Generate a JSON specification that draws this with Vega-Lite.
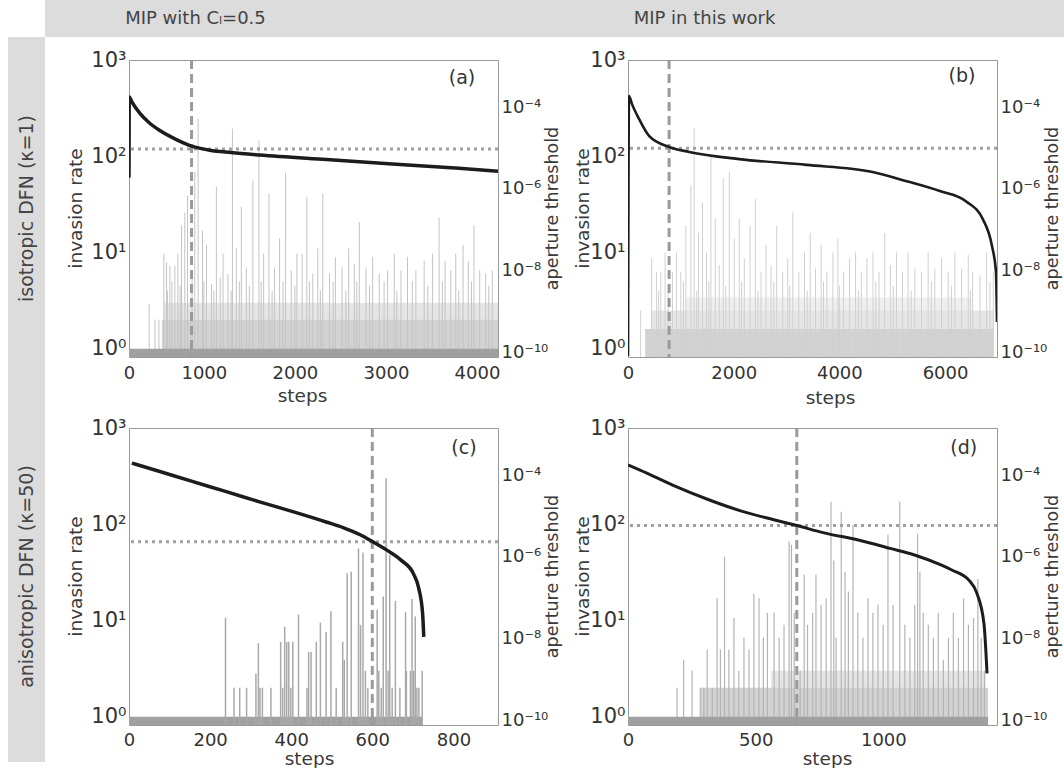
{
"$schema":"https://vega.github.io/schema/vega-lite/v6.json",
"padding":{"left":8,"top":0,"right":0,"bottom":0},
"background":"white",
"config":{"font":"DejaVu Sans","view":{"stroke":"#999"},"axis":{"domain":false,"ticks":false,"grid":false,"labelColor":"#333","titleColor":"#3a3a3a","titleFontWeight":"normal","labelFont":"DejaVu Sans","titleFont":"DejaVu Sans"},"text":{"font":"DejaVu Sans"}},
"datasets":{
"refs":[{"p":"a","step":865,"thr":9.5e-6},{"p":"b","step":778,"thr":1.0e-5},{"p":"c","step":600,"thr":2.36e-6},{"p":"d","step":661,"thr":5.9e-6}],
"bands":[
{"p":"b","lvl":"faint","s0":1100,"s1":6500,"rate":3.4},
{"p":"a","lvl":"sparse","s0":560,"s1":4231,"rate":3},
{"p":"b","lvl":"sparse","s0":440,"s1":6913,"rate":2.5},
{"p":"d","lvl":"sparse","s0":560,"s1":1400,"rate":3},
{"p":"a","lvl":"dense","s0":540,"s1":4231,"rate":2},
{"p":"b","lvl":"dense","s0":335,"s1":6913,"rate":1.6},
{"p":"d","lvl":"dense","s0":283,"s1":1410,"rate":2},
{"p":"a","lvl":"base","s0":178,"s1":4231,"rate":1},
{"p":"c","lvl":"base","s0":0,"s1":724,"rate":1},
{"p":"d","lvl":"base","s0":0,"s1":1410,"rate":1}
],
"curve":[
{"p":"a","step":178,"thr":1.9e-6},{"p":"a","step":181,"thr":1.8e-4},{"p":"a","step":208,"thr":1.38e-4},{"p":"a","step":298,"thr":7.1e-5},{"p":"a","step":400,"thr":4.2e-5},{"p":"a","step":517,"thr":2.7e-5},{"p":"a","step":704,"thr":1.6e-5},{"p":"a","step":868,"thr":1.12e-5},{"p":"a","step":1065,"thr":8.9e-6},{"p":"a","step":1300,"thr":7.8e-6},{"p":"a","step":1613,"thr":6.8e-6},{"p":"a","step":2347,"thr":5.25e-6},{"p":"a","step":3070,"thr":4.1e-6},{"p":"a","step":3803,"thr":3.2e-6},{"p":"a","step":4230,"thr":2.7e-6},
{"p":"b","step":0,"thr":8e-11},{"p":"b","step":19,"thr":1.9e-4},{"p":"b","step":76,"thr":1.2e-4},{"p":"b","step":209,"thr":5.2e-5},{"p":"b","step":398,"thr":2.0e-5},{"p":"b","step":778,"thr":1.07e-5},{"p":"b","step":1157,"thr":8.1e-6},{"p":"b","step":2106,"thr":5.4e-6},{"p":"b","step":3378,"thr":3.9e-6},{"p":"b","step":4630,"thr":2.6e-6},{"p":"b","step":5275,"thr":1.55e-6},{"p":"b","step":5900,"thr":8.9e-7},{"p":"b","step":6414,"thr":4.8e-7},{"p":"b","step":6717,"thr":1.8e-7},{"p":"b","step":6888,"thr":4.0e-8},{"p":"b","step":6964,"thr":9.2e-9},{"p":"b","step":6983,"thr":5.5e-10},
{"p":"c","step":7,"thr":2.0e-4},{"p":"c","step":74,"thr":1.26e-4},{"p":"c","step":156,"thr":7.1e-5},{"p":"c","step":240,"thr":4.0e-5},{"p":"c","step":322,"thr":2.24e-5},{"p":"c","step":404,"thr":1.29e-5},{"p":"c","step":488,"thr":7.1e-6},{"p":"c","step":528,"thr":5.25e-6},{"p":"c","step":570,"thr":3.5e-6},{"p":"c","step":600,"thr":2.4e-6},{"p":"c","step":637,"thr":1.45e-6},{"p":"c","step":670,"thr":8.5e-7},{"p":"c","step":702,"thr":3.8e-7},{"p":"c","step":714,"thr":1.8e-7},{"p":"c","step":724,"thr":4.2e-8},{"p":"c","step":727,"thr":1.1e-8},
{"p":"d","step":0,"thr":1.8e-4},{"p":"d","step":47,"thr":1.35e-4},{"p":"d","step":177,"thr":5.7e-5},{"p":"d","step":311,"thr":2.6e-5},{"p":"d","step":441,"thr":1.35e-5},{"p":"d","step":571,"thr":8.2e-6},{"p":"d","step":661,"thr":5.9e-6},{"p":"d","step":768,"thr":3.9e-6},{"p":"d","step":902,"thr":2.6e-6},{"p":"d","step":1031,"thr":1.6e-6},{"p":"d","step":1122,"thr":1.12e-6},{"p":"d","step":1228,"thr":6.3e-7},{"p":"d","step":1268,"thr":4.8e-7},{"p":"d","step":1335,"thr":2.7e-7},{"p":"d","step":1366,"thr":1.3e-7},{"p":"d","step":1394,"thr":2.3e-8},{"p":"d","step":1406,"thr":1.4e-9}
],
"spikes":[
{"p":"a","step":400,"rate":2.9},{"p":"a","step":463,"rate":2},{"p":"a","step":507,"rate":2},{"p":"a","step":561,"rate":9.7},{"p":"a","step":591,"rate":7.9},{"p":"a","step":627,"rate":7.3},{"p":"a","step":682,"rate":7.3},{"p":"a","step":715,"rate":9.7},{"p":"a","step":755,"rate":19},{"p":"a","step":791,"rate":26},{"p":"a","step":821,"rate":39},{"p":"a","step":901,"rate":69},{"p":"a","step":937,"rate":247},{"p":"a","step":985,"rate":17},{"p":"a","step":1029,"rate":12},{"p":"a","step":1083,"rate":4.7},{"p":"a","step":1138,"rate":48},{"p":"a","step":1211,"rate":9.7},{"p":"a","step":1265,"rate":6},{"p":"a","step":1314,"rate":194},{"p":"a","step":1357,"rate":11},{"p":"a","step":1412,"rate":30},{"p":"a","step":1467,"rate":7},{"p":"a","step":1539,"rate":56},{"p":"a","step":1605,"rate":146},{"p":"a","step":1657,"rate":9.7},{"p":"a","step":1715,"rate":41},{"p":"a","step":1777,"rate":7},{"p":"a","step":1832,"rate":14},{"p":"a","step":1898,"rate":68},{"p":"a","step":1960,"rate":6.5},{"p":"a","step":2022,"rate":9.7},{"p":"a","step":2080,"rate":9.7},{"p":"a","step":2131,"rate":38},{"p":"a","step":2197,"rate":6},{"p":"a","step":2252,"rate":11},{"p":"a","step":2306,"rate":41},{"p":"a","step":2380,"rate":6},{"p":"a","step":2445,"rate":8.9},{"p":"a","step":2518,"rate":7},{"p":"a","step":2591,"rate":11},{"p":"a","step":2653,"rate":7.6},{"p":"a","step":2708,"rate":20.6},{"p":"a","step":2781,"rate":7},{"p":"a","step":2854,"rate":9},{"p":"a","step":2927,"rate":6},{"p":"a","step":3018,"rate":6.5},{"p":"a","step":3091,"rate":9.7},{"p":"a","step":3165,"rate":6.5},{"p":"a","step":3237,"rate":9},{"p":"a","step":3329,"rate":6.5},{"p":"a","step":3420,"rate":8.2},{"p":"a","step":3511,"rate":9.7},{"p":"a","step":3584,"rate":23},{"p":"a","step":3650,"rate":8.2},{"p":"a","step":3712,"rate":6.5},{"p":"a","step":3767,"rate":9.7},{"p":"a","step":3847,"rate":12},{"p":"a","step":3905,"rate":8.2},{"p":"a","step":3967,"rate":19},{"p":"a","step":4030,"rate":6.5},{"p":"a","step":4096,"rate":6},{"p":"a","step":4168,"rate":6.5},
{"p":"a","step":600,"rate":4},{"p":"a","step":650,"rate":5},{"p":"a","step":740,"rate":4.5},{"p":"a","step":870,"rate":6},{"p":"a","step":1000,"rate":5},{"p":"a","step":1110,"rate":4},{"p":"a","step":1180,"rate":5.5},{"p":"a","step":1300,"rate":4},{"p":"a","step":1390,"rate":5},{"p":"a","step":1500,"rate":4.5},{"p":"a","step":1630,"rate":5},{"p":"a","step":1750,"rate":4},{"p":"a","step":1870,"rate":5},{"p":"a","step":2000,"rate":4.5},{"p":"a","step":2160,"rate":5},{"p":"a","step":2280,"rate":4},{"p":"a","step":2420,"rate":5},{"p":"a","step":2560,"rate":4},{"p":"a","step":2680,"rate":5},{"p":"a","step":2820,"rate":4.5},{"p":"a","step":2980,"rate":5},{"p":"a","step":3120,"rate":4},{"p":"a","step":3290,"rate":5},{"p":"a","step":3460,"rate":4.5},{"p":"a","step":3620,"rate":5},{"p":"a","step":3800,"rate":4},{"p":"a","step":3940,"rate":5},{"p":"a","step":4130,"rate":4.5},
{"p":"b","step":240,"rate":2.5},{"p":"b","step":335,"rate":1.6},{"p":"b","step":449,"rate":8.7},{"p":"b","step":538,"rate":6.3},{"p":"b","step":620,"rate":6.3},{"p":"b","step":702,"rate":10},{"p":"b","step":841,"rate":6.3},{"p":"b","step":917,"rate":10},{"p":"b","step":1000,"rate":6.3},{"p":"b","step":1095,"rate":19},{"p":"b","step":1190,"rate":50},{"p":"b","step":1252,"rate":195},{"p":"b","step":1334,"rate":16},{"p":"b","step":1410,"rate":33},{"p":"b","step":1486,"rate":10},{"p":"b","step":1569,"rate":103},{"p":"b","step":1651,"rate":22.5},{"p":"b","step":1727,"rate":7.4},{"p":"b","step":1803,"rate":59},{"p":"b","step":1917,"rate":69},{"p":"b","step":2011,"rate":14},{"p":"b","step":2106,"rate":22.5},{"p":"b","step":2201,"rate":8.7},{"p":"b","step":2309,"rate":19},{"p":"b","step":2410,"rate":36},{"p":"b","step":2517,"rate":6.3},{"p":"b","step":2612,"rate":12},{"p":"b","step":2707,"rate":7.4},{"p":"b","step":2814,"rate":19},{"p":"b","step":2928,"rate":6.3},{"p":"b","step":3023,"rate":8.7},{"p":"b","step":3118,"rate":26},{"p":"b","step":3232,"rate":6.3},{"p":"b","step":3340,"rate":10},{"p":"b","step":3448,"rate":16},{"p":"b","step":3548,"rate":6.8},{"p":"b","step":3656,"rate":12},{"p":"b","step":3763,"rate":6.3},{"p":"b","step":3877,"rate":10},{"p":"b","step":3972,"rate":14},{"p":"b","step":4080,"rate":6.3},{"p":"b","step":4194,"rate":8.7},{"p":"b","step":4307,"rate":10},{"p":"b","step":4415,"rate":6.3},{"p":"b","step":4522,"rate":8.7},{"p":"b","step":4636,"rate":10},{"p":"b","step":4750,"rate":6.3},{"p":"b","step":4858,"rate":16},{"p":"b","step":4966,"rate":7.4},{"p":"b","step":5080,"rate":10},{"p":"b","step":5193,"rate":6.3},{"p":"b","step":5300,"rate":10},{"p":"b","step":5427,"rate":6.8},{"p":"b","step":5554,"rate":6.3},{"p":"b","step":5680,"rate":10},{"p":"b","step":5806,"rate":6.8},{"p":"b","step":5933,"rate":8.7},{"p":"b","step":6059,"rate":6.3},{"p":"b","step":6186,"rate":10},{"p":"b","step":6313,"rate":6.8},{"p":"b","step":6439,"rate":9.4},{"p":"b","step":6522,"rate":6.3},{"p":"b","step":6660,"rate":5.8},{"p":"b","step":6787,"rate":10},{"p":"b","step":6913,"rate":6.3},
{"p":"b","step":580,"rate":4},{"p":"b","step":760,"rate":4.5},{"p":"b","step":1050,"rate":5},{"p":"b","step":1300,"rate":4},{"p":"b","step":1530,"rate":5},{"p":"b","step":1850,"rate":4.5},{"p":"b","step":2150,"rate":5},{"p":"b","step":2460,"rate":4},{"p":"b","step":2760,"rate":5},{"p":"b","step":3060,"rate":4.5},{"p":"b","step":3390,"rate":4},{"p":"b","step":3700,"rate":5},{"p":"b","step":4000,"rate":4.5},{"p":"b","step":4360,"rate":4},{"p":"b","step":4690,"rate":5},{"p":"b","step":5020,"rate":4.5},{"p":"b","step":5360,"rate":4},{"p":"b","step":5740,"rate":5},{"p":"b","step":6120,"rate":4.5},{"p":"b","step":6480,"rate":4},{"p":"b","step":6850,"rate":5},
{"p":"c","step":238,"rate":10.7},{"p":"c","step":259,"rate":2},{"p":"c","step":273,"rate":2},{"p":"c","step":290,"rate":2},{"p":"c","step":313,"rate":2.8},{"p":"c","step":319,"rate":5.8},{"p":"c","step":323,"rate":2},{"p":"c","step":329,"rate":2},{"p":"c","step":350,"rate":2},{"p":"c","step":374,"rate":6},{"p":"c","step":379,"rate":2},{"p":"c","step":384,"rate":8.6},{"p":"c","step":389,"rate":6},{"p":"c","step":394,"rate":6},{"p":"c","step":399,"rate":2},{"p":"c","step":404,"rate":6},{"p":"c","step":418,"rate":11.5},{"p":"c","step":439,"rate":2},{"p":"c","step":443,"rate":4.7},{"p":"c","step":449,"rate":4.7},{"p":"c","step":462,"rate":6},{"p":"c","step":472,"rate":9.5},{"p":"c","step":486,"rate":7.6},{"p":"c","step":498,"rate":12.5},{"p":"c","step":511,"rate":2},{"p":"c","step":527,"rate":6},{"p":"c","step":531,"rate":3.9},{"p":"c","step":538,"rate":31},{"p":"c","step":548,"rate":32},{"p":"c","step":566,"rate":56},{"p":"c","step":571,"rate":9},{"p":"c","step":577,"rate":51},{"p":"c","step":583,"rate":3},{"p":"c","step":589,"rate":2},{"p":"c","step":612,"rate":13},{"p":"c","step":616,"rate":3},{"p":"c","step":622,"rate":2},{"p":"c","step":627,"rate":17.7},{"p":"c","step":634,"rate":300},{"p":"c","step":639,"rate":3},{"p":"c","step":643,"rate":48},{"p":"c","step":649,"rate":2},{"p":"c","step":657,"rate":16},{"p":"c","step":668,"rate":2},{"p":"c","step":682,"rate":12.3},{"p":"c","step":684,"rate":3},{"p":"c","step":694,"rate":3},{"p":"c","step":698,"rate":16.7},{"p":"c","step":702,"rate":3},{"p":"c","step":706,"rate":11},{"p":"c","step":710,"rate":2},{"p":"c","step":715,"rate":2},{"p":"c","step":723,"rate":3},
{"p":"d","step":192,"rate":2},{"p":"d","step":218,"rate":3.9},{"p":"d","step":251,"rate":3},{"p":"d","step":283,"rate":2},{"p":"d","step":297,"rate":2},{"p":"d","step":310,"rate":5},{"p":"d","step":330,"rate":2},{"p":"d","step":349,"rate":17},{"p":"d","step":362,"rate":5},{"p":"d","step":378,"rate":46},{"p":"d","step":395,"rate":5},{"p":"d","step":415,"rate":10.6},{"p":"d","step":434,"rate":3},{"p":"d","step":454,"rate":6.6},{"p":"d","step":474,"rate":5},{"p":"d","step":493,"rate":19},{"p":"d","step":513,"rate":17},{"p":"d","step":530,"rate":6.6},{"p":"d","step":546,"rate":12},{"p":"d","step":572,"rate":12},{"p":"d","step":592,"rate":6.6},{"p":"d","step":611,"rate":9},{"p":"d","step":631,"rate":66},{"p":"d","step":640,"rate":61},{"p":"d","step":651,"rate":12},{"p":"d","step":674,"rate":3},{"p":"d","step":690,"rate":30},{"p":"d","step":703,"rate":9},{"p":"d","step":723,"rate":12},{"p":"d","step":736,"rate":30},{"p":"d","step":756,"rate":14.6},{"p":"d","step":776,"rate":17},{"p":"d","step":795,"rate":171},{"p":"d","step":806,"rate":42},{"p":"d","step":815,"rate":6.6},{"p":"d","step":835,"rate":135},{"p":"d","step":850,"rate":32},{"p":"d","step":863,"rate":20},{"p":"d","step":881,"rate":98},{"p":"d","step":900,"rate":12},{"p":"d","step":920,"rate":6.6},{"p":"d","step":940,"rate":17},{"p":"d","step":959,"rate":12},{"p":"d","step":979,"rate":14.6},{"p":"d","step":999,"rate":9},{"p":"d","step":1018,"rate":78},{"p":"d","step":1038,"rate":14.6},{"p":"d","step":1064,"rate":171},{"p":"d","step":1084,"rate":9},{"p":"d","step":1104,"rate":6.6},{"p":"d","step":1123,"rate":14.6},{"p":"d","step":1134,"rate":80},{"p":"d","step":1143,"rate":32},{"p":"d","step":1156,"rate":12},{"p":"d","step":1176,"rate":9},{"p":"d","step":1196,"rate":6.6},{"p":"d","step":1215,"rate":12},{"p":"d","step":1235,"rate":3.9},{"p":"d","step":1255,"rate":6.6},{"p":"d","step":1274,"rate":12},{"p":"d","step":1294,"rate":6.6},{"p":"d","step":1314,"rate":17},{"p":"d","step":1333,"rate":9},{"p":"d","step":1353,"rate":10.6},{"p":"d","step":1370,"rate":27},{"p":"d","step":1383,"rate":6.6},{"p":"d","step":1396,"rate":3}
]
},
"columns":6,"spacing":0,"bounds":"flush",
"concat":[
 {"width":37,"height":37,"data":{"values":[{}]},"mark":{"type":"text","text":""},"view":{"stroke":null}},
 {"width":84,"height":37,"data":{"values":[{}]},"mark":{"type":"text","text":""},"view":{"fill":"#dcdcdc","stroke":null}},
 {"width":369,"height":37,"data":{"values":[{}]},"mark":{"type":"text","text":"MIP with Cₗ=0.5","fontSize":18,"color":"#444","dx":-118,"baseline":"middle","align":"center"},"view":{"fill":"#dcdcdc","stroke":null}},
 {"width":130,"height":37,"data":{"values":[{}]},"mark":{"type":"text","text":""},"view":{"fill":"#dcdcdc","stroke":null}},
 {"width":369,"height":37,"data":{"values":[{}]},"mark":{"type":"text","text":"MIP in this work","fontSize":18,"color":"#444","dx":-108,"baseline":"middle","align":"center"},"view":{"fill":"#dcdcdc","stroke":null}},
 {"width":67,"height":37,"data":{"values":[{}]},"mark":{"type":"text","text":""},"view":{"fill":"#dcdcdc","stroke":null}},

 {"width":37,"height":23,"data":{"values":[{}]},"mark":{"type":"text","text":""},"view":{"fill":"#dcdcdc","stroke":null}},
 {"width":1,"height":1,"data":{"values":[{}]},"mark":{"type":"text","text":""},"view":{"stroke":null}},
 {"width":1,"height":1,"data":{"values":[{}]},"mark":{"type":"text","text":""},"view":{"stroke":null}},
 {"width":1,"height":1,"data":{"values":[{}]},"mark":{"type":"text","text":""},"view":{"stroke":null}},
 {"width":1,"height":1,"data":{"values":[{}]},"mark":{"type":"text","text":""},"view":{"stroke":null}},
 {"width":1,"height":1,"data":{"values":[{}]},"mark":{"type":"text","text":""},"view":{"stroke":null}},

 {"width":37,"height":297,"data":{"values":[{}]},"mark":{"type":"text","text":"isotropic DFN (κ=1)","angle":270,"fontSize":19,"color":"#444","baseline":"middle","align":"center"},"view":{"fill":"#dcdcdc","stroke":null}},
 {"width":1,"height":1,"data":{"values":[{}]},"mark":{"type":"text","text":""},"view":{"stroke":null}},
 {"width":369,"height":297,"resolve":{"scale":{"y":"independent"}},
  "layer":[
   {"layer":[
     {"data":{"name":"bands"},"transform":[{"filter":"datum.p==='a' && datum.lvl!=='base'"}],"mark":{"type":"bar","clip":true},
      "encoding":{
       "x":{"field":"s0","type":"quantitative","title":"steps","scale":{"domain":[178,4231],"nice":false,"zero":false},
            "axis":{"values":[178,1000,2000,3000,4000],"format":"d","labelExpr":"datum.value < 500 ? '0' : datum.label","labelFontSize":18,"labelPadding":7,"labelFlush":false,"labelOverlap":false,"titleFontSize":18.5,"titleX":173,"titleY":38,"titleBaseline":"middle","titleAlign":"center"}},
       "x2":{"field":"s1"},
       "y":{"field":"rate","type":"quantitative","title":"invasion rate","scale":{"type":"log","domain":[0.82,1000],"nice":false},
            "axis":{"orient":"left","values":[1,10,100,1000],"labelExpr":"datum.value < 5 ? '10⁰' : datum.value < 50 ? '10¹' : datum.value < 500 ? '10²' : '10³'","labelFontSize":21,"labelPadding":3,"labelFlush":false,"labelOverlap":false,"titleFontSize":18.5,"titleAngle":270,"titleX":-54,"titleY":148,"titleBaseline":"middle","titleAlign":"center"}},
       "y2":{"datum":0.82},
       "color":{"field":"lvl","type":"nominal","scale":{"domain":["base","dense","sparse","faint"],"range":["#a0a0a0","#d2d2d2","#e5e5e5","#efefef"]},"legend":null}}},
     {"data":{"name":"spikes"},"transform":[{"filter":"datum.p==='a'"}],"mark":{"type":"rule","clip":true,"color":"#c4c4c4","strokeWidth":1},
      "encoding":{"x":{"field":"step","type":"quantitative","title":"steps"},"y":{"field":"rate","type":"quantitative","title":"invasion rate"},"y2":{"datum":0.82}}},
     {"data":{"name":"bands"},"transform":[{"filter":"datum.p==='a' && datum.lvl==='base'"}],"mark":{"type":"bar","clip":true,"color":"#a0a0a0"},
      "encoding":{"x":{"field":"s0","type":"quantitative","title":"steps"},"x2":{"field":"s1"},"y":{"field":"rate","type":"quantitative","title":"invasion rate"},"y2":{"datum":0.82}}},
     {"data":{"values":[{}]},"mark":{"type":"text","text":"(a)","fontSize":19,"color":"#333"},
      "encoding":{"x":{"datum":3836,"type":"quantitative"},"y":{"datum":650,"type":"quantitative"}}}
   ]},
   {"layer":[
     {"data":{"name":"refs"},"transform":[{"filter":"datum.p==='a'"}],"mark":{"type":"rule","color":"#9a9a9a","strokeWidth":3,"strokeDash":[9,5]},
      "encoding":{"x":{"field":"step","type":"quantitative","title":"steps"}}},
     {"data":{"name":"refs"},"transform":[{"filter":"datum.p==='a'"}],"mark":{"type":"rule","color":"#a0a0a0","strokeWidth":3,"strokeDash":[3,4]},
      "encoding":{"y":{"field":"thr","type":"quantitative","title":"aperture threshold"}}},
     {"data":{"name":"curve"},"transform":[{"filter":"datum.p==='a'"}],"mark":{"type":"line","color":"#1c1c1c","strokeWidth":3.5,"clip":true,"interpolate":"monotone"},
      "encoding":{"x":{"field":"step","type":"quantitative","title":"steps"},
       "y":{"field":"thr","type":"quantitative","title":"aperture threshold","scale":{"type":"log","domain":[7.6e-11,1.45e-3],"nice":false},
            "axis":{"orient":"right","values":[1e-10,1e-8,1e-6,1e-4],"labelExpr":"datum.value < 1e-9 ? '10⁻¹⁰' : datum.value < 1e-7 ? '10⁻⁸' : datum.value < 1e-5 ? '10⁻⁶' : '10⁻⁴'","labelFontSize":18,"labelPadding":3,"labelFlush":false,"labelOverlap":false,"titleFontSize":17.5,"titleAngle":270,"titleX":54,"titleY":148,"titleBaseline":"middle","titleAlign":"center"}}}}
   ]}
  ]},
 {"width":1,"height":1,"data":{"values":[{}]},"mark":{"type":"text","text":""},"view":{"stroke":null}},
 {"width":369,"height":297,"resolve":{"scale":{"y":"independent"}},
  "layer":[
   {"layer":[
     {"data":{"name":"bands"},"transform":[{"filter":"datum.p==='b' && datum.lvl!=='base'"}],"mark":{"type":"bar","clip":true},
      "encoding":{
       "x":{"field":"s0","type":"quantitative","title":"steps","scale":{"domain":[0,6983],"nice":false,"zero":false},
            "axis":{"values":[0,2000,4000,6000],"format":"d","labelFontSize":18,"labelPadding":7,"labelFlush":false,"labelOverlap":false,"titleFontSize":18.5,"titleX":202,"titleY":40,"titleBaseline":"middle","titleAlign":"center"}},
       "x2":{"field":"s1"},
       "y":{"field":"rate","type":"quantitative","title":"invasion rate","scale":{"type":"log","domain":[0.82,1000],"nice":false},
            "axis":{"orient":"left","values":[1,10,100,1000],"labelExpr":"datum.value < 5 ? '10⁰' : datum.value < 50 ? '10¹' : datum.value < 500 ? '10²' : '10³'","labelFontSize":21,"labelPadding":3,"labelFlush":false,"labelOverlap":false,"titleFontSize":18.5,"titleAngle":270,"titleX":-46,"titleY":148,"titleBaseline":"middle","titleAlign":"center"}},
       "y2":{"datum":0.82},
       "color":{"field":"lvl","type":"nominal","scale":{"domain":["base","dense","sparse","faint"],"range":["#a0a0a0","#d9d9d9","#e7e7e7","#f0f0f0"]},"legend":null}}},
     {"data":{"name":"spikes"},"transform":[{"filter":"datum.p==='b'"}],"mark":{"type":"rule","clip":true,"color":"#d0d0d0","strokeWidth":1},
      "encoding":{"x":{"field":"step","type":"quantitative","title":"steps"},"y":{"field":"rate","type":"quantitative","title":"invasion rate"},"y2":{"datum":0.82}}},
     {"data":{"values":[{}]},"mark":{"type":"text","text":"(b)","fontSize":19,"color":"#333"},
      "encoding":{"x":{"datum":6319,"type":"quantitative"},"y":{"datum":680,"type":"quantitative"}}}
   ]},
   {"layer":[
     {"data":{"name":"refs"},"transform":[{"filter":"datum.p==='b'"}],"mark":{"type":"rule","color":"#9a9a9a","strokeWidth":3,"strokeDash":[9,5]},
      "encoding":{"x":{"field":"step","type":"quantitative","title":"steps"}}},
     {"data":{"name":"refs"},"transform":[{"filter":"datum.p==='b'"}],"mark":{"type":"rule","color":"#a0a0a0","strokeWidth":3,"strokeDash":[3,4]},
      "encoding":{"y":{"field":"thr","type":"quantitative","title":"aperture threshold"}}},
     {"data":{"name":"curve"},"transform":[{"filter":"datum.p==='b'"}],"mark":{"type":"line","color":"#1c1c1c","strokeWidth":2.6,"clip":true,"interpolate":"monotone"},
      "encoding":{"x":{"field":"step","type":"quantitative","title":"steps"},
       "y":{"field":"thr","type":"quantitative","title":"aperture threshold","scale":{"type":"log","domain":[7.6e-11,1.45e-3],"nice":false},
            "axis":{"orient":"right","values":[1e-10,1e-8,1e-6,1e-4],"labelExpr":"datum.value < 1e-9 ? '10⁻¹⁰' : datum.value < 1e-7 ? '10⁻⁸' : datum.value < 1e-5 ? '10⁻⁶' : '10⁻⁴'","labelFontSize":18,"labelPadding":3,"labelFlush":false,"labelOverlap":false,"titleFontSize":17.5,"titleAngle":270,"titleX":55,"titleY":148,"titleBaseline":"middle","titleAlign":"center"}}}}
   ]}
  ]},
 {"width":1,"height":1,"data":{"values":[{}]},"mark":{"type":"text","text":""},"view":{"stroke":null}},

 {"width":37,"height":71,"data":{"values":[{}]},"mark":{"type":"text","text":""},"view":{"fill":"#dcdcdc","stroke":null}},
 {"width":1,"height":1,"data":{"values":[{}]},"mark":{"type":"text","text":""},"view":{"stroke":null}},
 {"width":1,"height":1,"data":{"values":[{}]},"mark":{"type":"text","text":""},"view":{"stroke":null}},
 {"width":1,"height":1,"data":{"values":[{}]},"mark":{"type":"text","text":""},"view":{"stroke":null}},
 {"width":1,"height":1,"data":{"values":[{}]},"mark":{"type":"text","text":""},"view":{"stroke":null}},
 {"width":1,"height":1,"data":{"values":[{}]},"mark":{"type":"text","text":""},"view":{"stroke":null}},

 {"width":37,"height":297,"data":{"values":[{}]},"mark":{"type":"text","text":"anisotropic DFN (κ=50)","angle":270,"fontSize":19,"color":"#444","baseline":"middle","align":"center"},"view":{"fill":"#dcdcdc","stroke":null}},
 {"width":1,"height":1,"data":{"values":[{}]},"mark":{"type":"text","text":""},"view":{"stroke":null}},
 {"width":369,"height":297,"resolve":{"scale":{"y":"independent"}},
  "layer":[
   {"layer":[
     {"data":{"name":"bands"},"transform":[{"filter":"datum.p==='c'"}],"mark":{"type":"bar","clip":true,"color":"#a0a0a0"},
      "encoding":{
       "x":{"field":"s0","type":"quantitative","title":"steps","scale":{"domain":[0,910],"nice":false,"zero":false},
            "axis":{"values":[0,200,400,600,800],"format":"d","labelFontSize":18,"labelPadding":6,"labelFlush":false,"labelOverlap":false,"titleFontSize":18.5,"titleX":180,"titleY":33,"titleBaseline":"middle","titleAlign":"center"}},
       "x2":{"field":"s1"},
       "y":{"field":"rate","type":"quantitative","title":"invasion rate","scale":{"type":"log","domain":[0.82,1000],"nice":false},
            "axis":{"orient":"left","values":[1,10,100,1000],"labelExpr":"datum.value < 5 ? '10⁰' : datum.value < 50 ? '10¹' : datum.value < 500 ? '10²' : '10³'","labelFontSize":21,"labelPadding":3,"labelFlush":false,"labelOverlap":false,"titleFontSize":18.5,"titleAngle":270,"titleX":-54,"titleY":148,"titleBaseline":"middle","titleAlign":"center"}},
       "y2":{"datum":0.82}}},
     {"data":{"name":"spikes"},"transform":[{"filter":"datum.p==='c'"}],"mark":{"type":"rule","clip":true,"color":"#a9a9a9","strokeWidth":1.5},
      "encoding":{"x":{"field":"step","type":"quantitative","title":"steps"},"y":{"field":"rate","type":"quantitative","title":"invasion rate"},"y2":{"datum":0.82}}},
     {"data":{"values":[{}]},"mark":{"type":"text","text":"(c)","fontSize":19,"color":"#333"},
      "encoding":{"x":{"datum":826,"type":"quantitative"},"y":{"datum":620,"type":"quantitative"}}}
   ]},
   {"layer":[
     {"data":{"name":"refs"},"transform":[{"filter":"datum.p==='c'"}],"mark":{"type":"rule","color":"#9a9a9a","strokeWidth":3,"strokeDash":[9,5]},
      "encoding":{"x":{"field":"step","type":"quantitative","title":"steps"}}},
     {"data":{"name":"refs"},"transform":[{"filter":"datum.p==='c'"}],"mark":{"type":"rule","color":"#a0a0a0","strokeWidth":3,"strokeDash":[3,4]},
      "encoding":{"y":{"field":"thr","type":"quantitative","title":"aperture threshold"}}},
     {"data":{"name":"curve"},"transform":[{"filter":"datum.p==='c'"}],"mark":{"type":"line","color":"#1c1c1c","strokeWidth":3.5,"clip":true,"interpolate":"monotone"},
      "encoding":{"x":{"field":"step","type":"quantitative","title":"steps"},
       "y":{"field":"thr","type":"quantitative","title":"aperture threshold","scale":{"type":"log","domain":[7.6e-11,1.45e-3],"nice":false},
            "axis":{"orient":"right","values":[1e-10,1e-8,1e-6,1e-4],"labelExpr":"datum.value < 1e-9 ? '10⁻¹⁰' : datum.value < 1e-7 ? '10⁻⁸' : datum.value < 1e-5 ? '10⁻⁶' : '10⁻⁴'","labelFontSize":18,"labelPadding":3,"labelFlush":false,"labelOverlap":false,"titleFontSize":17.5,"titleAngle":270,"titleX":54,"titleY":148,"titleBaseline":"middle","titleAlign":"center"}}}}
   ]}
  ]},
 {"width":1,"height":1,"data":{"values":[{}]},"mark":{"type":"text","text":""},"view":{"stroke":null}},
 {"width":369,"height":297,"resolve":{"scale":{"y":"independent"}},
  "layer":[
   {"layer":[
     {"data":{"name":"bands"},"transform":[{"filter":"datum.p==='d' && datum.lvl!=='base'"}],"mark":{"type":"bar","clip":true},
      "encoding":{
       "x":{"field":"s0","type":"quantitative","title":"steps","scale":{"domain":[0,1445],"nice":false,"zero":false},
            "axis":{"values":[0,500,1000],"format":"d","labelFontSize":18,"labelPadding":6,"labelFlush":false,"labelOverlap":false,"titleFontSize":18.5,"titleX":199,"titleY":33,"titleBaseline":"middle","titleAlign":"center"}},
       "x2":{"field":"s1"},
       "y":{"field":"rate","type":"quantitative","title":"invasion rate","scale":{"type":"log","domain":[0.82,1000],"nice":false},
            "axis":{"orient":"left","values":[1,10,100,1000],"labelExpr":"datum.value < 5 ? '10⁰' : datum.value < 50 ? '10¹' : datum.value < 500 ? '10²' : '10³'","labelFontSize":21,"labelPadding":3,"labelFlush":false,"labelOverlap":false,"titleFontSize":18.5,"titleAngle":270,"titleX":-46,"titleY":148,"titleBaseline":"middle","titleAlign":"center"}},
       "y2":{"datum":0.82},
       "color":{"field":"lvl","type":"nominal","scale":{"domain":["base","dense","sparse","faint"],"range":["#a0a0a0","#c4c4c4","#dedede","#ececec"]},"legend":null}}},
     {"data":{"name":"spikes"},"transform":[{"filter":"datum.p==='d'"}],"mark":{"type":"rule","clip":true,"color":"#b4b4b4","strokeWidth":1.2},
      "encoding":{"x":{"field":"step","type":"quantitative","title":"steps"},"y":{"field":"rate","type":"quantitative","title":"invasion rate"},"y2":{"datum":0.82}}},
     {"data":{"name":"bands"},"transform":[{"filter":"datum.p==='d' && datum.lvl==='base'"}],"mark":{"type":"bar","clip":true,"color":"#a0a0a0"},
      "encoding":{"x":{"field":"s0","type":"quantitative","title":"steps"},"x2":{"field":"s1"},"y":{"field":"rate","type":"quantitative","title":"invasion rate"},"y2":{"datum":0.82}}},
     {"data":{"values":[{}]},"mark":{"type":"text","text":"(d)","fontSize":19,"color":"#333"},
      "encoding":{"x":{"datum":1315,"type":"quantitative"},"y":{"datum":620,"type":"quantitative"}}}
   ]},
   {"layer":[
     {"data":{"name":"refs"},"transform":[{"filter":"datum.p==='d'"}],"mark":{"type":"rule","color":"#9a9a9a","strokeWidth":3,"strokeDash":[9,5]},
      "encoding":{"x":{"field":"step","type":"quantitative","title":"steps"}}},
     {"data":{"name":"refs"},"transform":[{"filter":"datum.p==='d'"}],"mark":{"type":"rule","color":"#a0a0a0","strokeWidth":3,"strokeDash":[3,4]},
      "encoding":{"y":{"field":"thr","type":"quantitative","title":"aperture threshold"}}},
     {"data":{"name":"curve"},"transform":[{"filter":"datum.p==='d'"}],"mark":{"type":"line","color":"#1c1c1c","strokeWidth":3,"clip":true,"interpolate":"monotone"},
      "encoding":{"x":{"field":"step","type":"quantitative","title":"steps"},
       "y":{"field":"thr","type":"quantitative","title":"aperture threshold","scale":{"type":"log","domain":[7.6e-11,1.45e-3],"nice":false},
            "axis":{"orient":"right","values":[1e-10,1e-8,1e-6,1e-4],"labelExpr":"datum.value < 1e-9 ? '10⁻¹⁰' : datum.value < 1e-7 ? '10⁻⁸' : datum.value < 1e-5 ? '10⁻⁶' : '10⁻⁴'","labelFontSize":18,"labelPadding":3,"labelFlush":false,"labelOverlap":false,"titleFontSize":17.5,"titleAngle":270,"titleX":55,"titleY":148,"titleBaseline":"middle","titleAlign":"center"}}}}
   ]}
  ]},
 {"width":1,"height":1,"data":{"values":[{}]},"mark":{"type":"text","text":""},"view":{"stroke":null}},

 {"width":37,"height":37,"data":{"values":[{}]},"mark":{"type":"text","text":""},"view":{"fill":"#dcdcdc","stroke":null}},
 {"width":1,"height":1,"data":{"values":[{}]},"mark":{"type":"text","text":""},"view":{"stroke":null}},
 {"width":1,"height":1,"data":{"values":[{}]},"mark":{"type":"text","text":""},"view":{"stroke":null}},
 {"width":1,"height":1,"data":{"values":[{}]},"mark":{"type":"text","text":""},"view":{"stroke":null}},
 {"width":1,"height":1,"data":{"values":[{}]},"mark":{"type":"text","text":""},"view":{"stroke":null}},
 {"width":1,"height":1,"data":{"values":[{}]},"mark":{"type":"text","text":""},"view":{"stroke":null}}
]
}
